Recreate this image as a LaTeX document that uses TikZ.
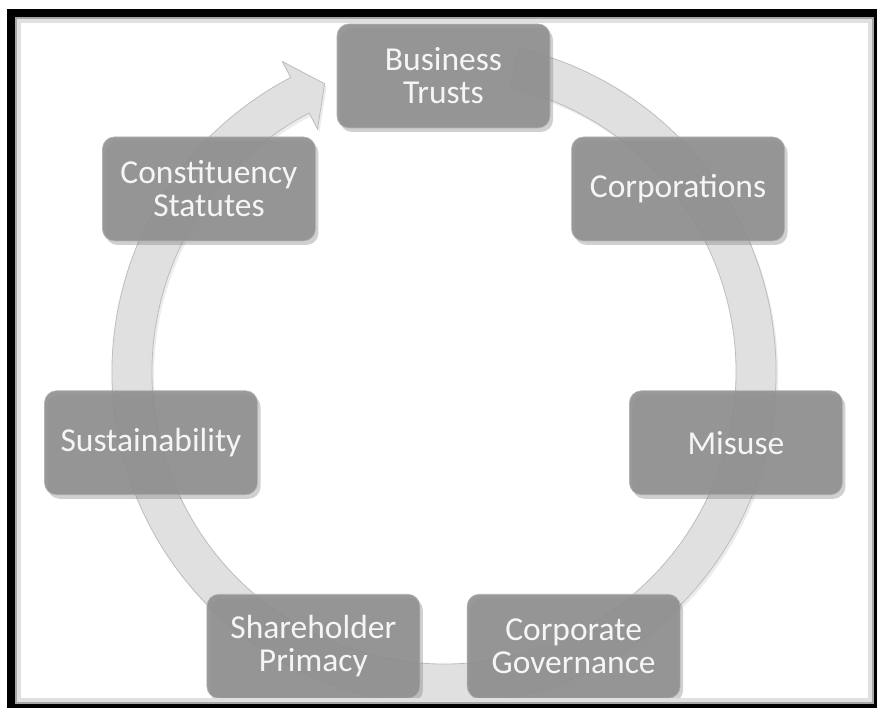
\documentclass[tikz,border=0pt]{standalone}
\usepackage{fontspec}
\setmainfont{Carlito}
\usetikzlibrary{shadows}
\tikzset{
  stage/.style={draw=black!30, line width=0.6pt, fill=black!44, fill opacity=0.9,
    text opacity=1, text=white!96!black, rounded corners=12pt,
    minimum width=213pt, minimum height=104pt, align=center,
    font=\fontsize{33.5}{33}\selectfont,
    drop shadow={shadow xshift=3pt, shadow yshift=-4pt, opacity=0.3, fill=black!60}},
  ring/.style={fill=black!12, draw=black!26, line width=0.8pt},
}

\begin{document}
\begin{tikzpicture}[x=1pt,y=1pt]
  \coordinate (SW) at (0,0);
  \coordinate (NE) at (877,708);
  \coordinate (O) at (443.5,332);
  \useasboundingbox (SW) rectangle (NE);
  \fill [white] (SW) rectangle (NE);

  % the ring, going clockwise, with its head at the top left
  \begin{scope}[shift={(444,336)}]
    \path [ring, drop shadow={shadow xshift=2pt, shadow yshift=-3pt, opacity=0.15}]
      (77:332) arc [start angle=77, end angle=-242.5, radius=332]
      -- (-242.5:350) -- (-247.5:312) -- (-242.5:274)
      -- (-242.5:292) arc [start angle=-242.5, end angle=77, radius=292]
      -- cycle;
  \end{scope}

  % the seven stages
  \begin{scope}[shift={(O)}]
    \foreach \angle / \name / \txt in
    {
      90/trusts/Business\\Trusts,
      38.57/corps/Corporations,
      -12.86/misuse/Misuse,
      -64.29/gov/Corporate\\Governance,
      -115.71/primacy/Shareholder\\Primacy,
      -167.14/sustain/Sustainability,
      141.43/statutes/Constituency\\Statutes
    }
    {
      \node [stage] (\name) at (\angle:300) {\txt};
    }
  \end{scope}

  % frame
  \begin{scope}
    \clip (SW) rectangle (NE);
    \draw [black!12, line width=4pt] (19,8) rectangle (870,687);
    \draw [black!35, line width=2pt] (16,5) rectangle (873,690);
    \draw [line width=8pt] (11,0) rectangle (878,695);
  \end{scope}
\end{tikzpicture}
\end{document}
